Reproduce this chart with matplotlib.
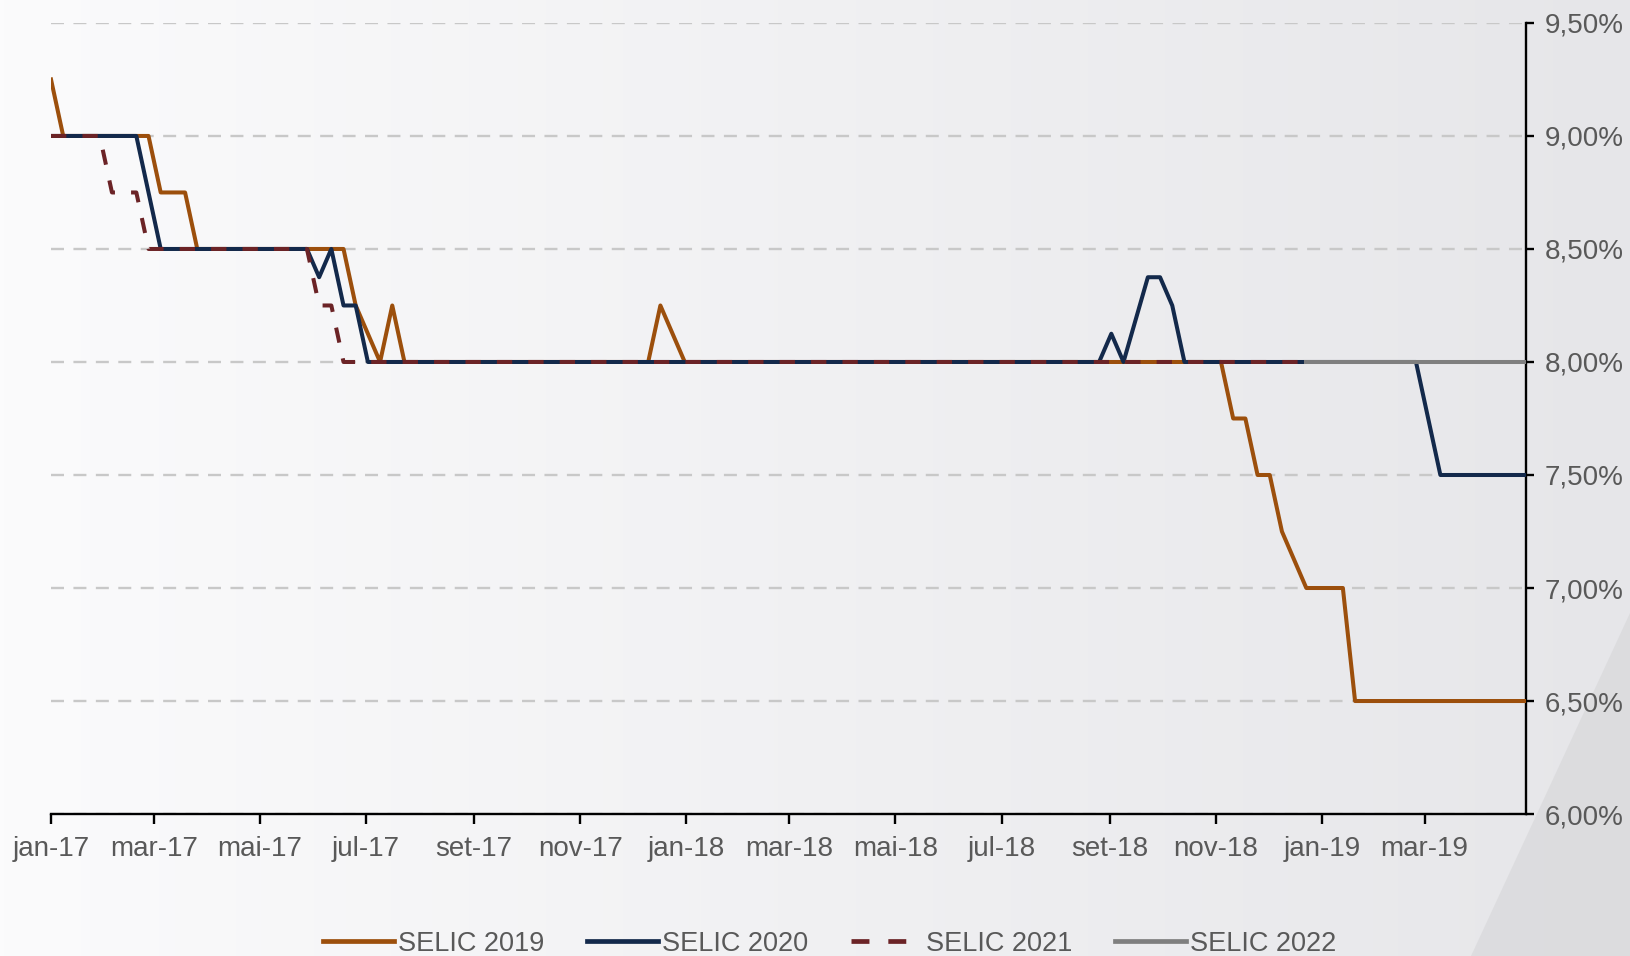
import numpy as np
import pandas as pd
import matplotlib
matplotlib.use("Agg")
import matplotlib.pyplot as plt
from matplotlib.patches import Polygon

plt.rcParams['font.family'] = ['Liberation Sans', 'DejaVu Sans']

# weekly survey dates
dates = pd.date_range('2017-01-01', periods=122, freq='7D')

selic_2019 = [
    9.25, 9.00, 9.00, 9.00, 9.00, 9.00, 9.00, 9.00, 9.00, 8.75,
    8.75, 8.75, 8.50, 8.50, 8.50, 8.50, 8.50, 8.50, 8.50, 8.50,
    8.50, 8.50, 8.50, 8.50, 8.50, 8.25, 8.125, 8.00, 8.25, 8.00,
    8.00, 8.00, 8.00, 8.00, 8.00, 8.00, 8.00, 8.00, 8.00, 8.00,
    8.00, 8.00, 8.00, 8.00, 8.00, 8.00, 8.00, 8.00, 8.00, 8.00,
    8.25, 8.125, 8.00, 8.00, 8.00, 8.00, 8.00, 8.00, 8.00, 8.00,
    8.00, 8.00, 8.00, 8.00, 8.00, 8.00, 8.00, 8.00, 8.00, 8.00,
    8.00, 8.00, 8.00, 8.00, 8.00, 8.00, 8.00, 8.00, 8.00, 8.00,
    8.00, 8.00, 8.00, 8.00, 8.00, 8.00, 8.00, 8.00, 8.00, 8.00,
    8.00, 8.00, 8.00, 8.00, 8.00, 8.00, 8.00, 7.75, 7.75, 7.50,
    7.50, 7.25, 7.125, 7.00, 7.00, 7.00, 7.00, 6.50, 6.50, 6.50,
    6.50, 6.50, 6.50, 6.50, 6.50, 6.50, 6.50, 6.50, 6.50, 6.50,
    6.50, 6.50,
]
selic_2020 = [
    9.00, 9.00, 9.00, 9.00, 9.00, 9.00, 9.00, 9.00, 8.75, 8.50,
    8.50, 8.50, 8.50, 8.50, 8.50, 8.50, 8.50, 8.50, 8.50, 8.50,
    8.50, 8.50, 8.375, 8.50, 8.25, 8.25, 8.00, 8.00, 8.00, 8.00,
    8.00, 8.00, 8.00, 8.00, 8.00, 8.00, 8.00, 8.00, 8.00, 8.00,
    8.00, 8.00, 8.00, 8.00, 8.00, 8.00, 8.00, 8.00, 8.00, 8.00,
    8.00, 8.00, 8.00, 8.00, 8.00, 8.00, 8.00, 8.00, 8.00, 8.00,
    8.00, 8.00, 8.00, 8.00, 8.00, 8.00, 8.00, 8.00, 8.00, 8.00,
    8.00, 8.00, 8.00, 8.00, 8.00, 8.00, 8.00, 8.00, 8.00, 8.00,
    8.00, 8.00, 8.00, 8.00, 8.00, 8.00, 8.00, 8.125, 8.00, 8.1875,
    8.375, 8.375, 8.25, 8.00, 8.00, 8.00, 8.00, 8.00, 8.00, 8.00,
    8.00, 8.00, 8.00, 8.00, 8.00, 8.00, 8.00, 8.00, 8.00, 8.00,
    8.00, 8.00, 8.00, 7.75, 7.50, 7.50, 7.50, 7.50, 7.50, 7.50,
    7.50, 7.50,
]
selic_2021 = [
    9.00, 9.00, 9.00, 9.00, 9.00, 8.75, 8.75, 8.75, 8.50, 8.50,
    8.50, 8.50, 8.50, 8.50, 8.50, 8.50, 8.50, 8.50, 8.50, 8.50,
    8.50, 8.50, 8.25, 8.25, 8.00, 8.00, 8.00, 8.00, 8.00, 8.00,
    8.00, 8.00, 8.00, 8.00, 8.00, 8.00, 8.00, 8.00, 8.00, 8.00,
    8.00, 8.00, 8.00, 8.00, 8.00, 8.00, 8.00, 8.00, 8.00, 8.00,
    8.00, 8.00, 8.00, 8.00, 8.00, 8.00, 8.00, 8.00, 8.00, 8.00,
    8.00, 8.00, 8.00, 8.00, 8.00, 8.00, 8.00, 8.00, 8.00, 8.00,
    8.00, 8.00, 8.00, 8.00, 8.00, 8.00, 8.00, 8.00, 8.00, 8.00,
    8.00, 8.00, 8.00, 8.00, 8.00, 8.00, 8.00, 8.00, 8.00, 8.00,
    8.00, 8.00, 8.00, 8.00, 8.00, 8.00, 8.00, 8.00, 8.00, 8.00,
    8.00, 8.00, 8.00, 8.00,
]
# 2022 series only starts at the 104th survey
selic_2022 = [
    8.00, 8.00, 8.00, 8.00, 8.00, 8.00, 8.00, 8.00, 8.00, 8.00,
    8.00, 8.00, 8.00, 8.00, 8.00, 8.00, 8.00, 8.00, 8.00,
]

tick_dates = ['2017-01-01', '2017-03-01', '2017-05-01', '2017-07-01', '2017-09-01',
              '2017-11-01', '2018-01-01', '2018-03-01', '2018-05-01', '2018-07-01',
              '2018-09-01', '2018-11-01', '2019-01-01', '2019-03-01']
tick_labels = ['jan-17', 'mar-17', 'mai-17', 'jul-17', 'set-17', 'nov-17', 'jan-18',
               'mar-18', 'mai-18', 'jul-18', 'set-18', 'nov-18', 'jan-19', 'mar-19']
y_ticks = [6.0, 6.5, 7.0, 7.5, 8.0, 8.5, 9.0, 9.5]

txt = '#595959'

fig = plt.figure(figsize=(16.3, 9.56), dpi=100)

# background gradient
bg = fig.add_axes([0, 0, 1, 1], zorder=-10)
grad = np.linspace(0, 1, 400)
r = 251 - 21 * grad
g = 251 - 21 * grad
b = 252 - 19 * grad
img = np.stack([np.tile(r, (10, 1)), np.tile(g, (10, 1)), np.tile(b, (10, 1))], axis=-1) / 255
bg.imshow(img, aspect='auto', extent=[0, 1, 0, 1])
bg.add_patch(Polygon([(1471 / 1630, 0), (1.0, 1 - 613 / 956), (1.0, 0)],
                     closed=True, facecolor='#d6d6d8', edgecolor='none', alpha=0.6))
bg.set_xlim(0, 1)
bg.set_ylim(0, 1)
bg.axis('off')

ax = fig.add_axes([0.0313, 0.1485, 0.9047, 0.8275])
ax.set_facecolor('none')

lw = 2.9
ax.plot(dates, selic_2019, color='#9c4f0c', lw=lw, label='SELIC 2019', zorder=3)
ax.plot(dates, selic_2020, color='#13294b', lw=lw, label='SELIC 2020', zorder=4)
ax.plot(dates[:len(selic_2021)], selic_2021, color='#6b2326', lw=lw,
        dashes=(3.8, 4.0), label='SELIC 2021', zorder=5)
ax.plot(dates[-len(selic_2022):], selic_2022, color='#7f7f7f', lw=lw,
        label='SELIC 2022', zorder=6)

ax.set_xlim(dates[0], dates[-1])
ax.set_ylim(6.0, 9.5)

ax.yaxis.tick_right()
ax.set_yticks(y_ticks)
ax.set_yticklabels([f'{v:.2f}%'.replace('.', ',') for v in y_ticks])
ax.set_xticks(pd.to_datetime(tick_dates))
ax.set_xticklabels(tick_labels)

for s in ['top', 'left']:
    ax.spines[s].set_visible(False)
for s in ['right', 'bottom']:
    ax.spines[s].set_linewidth(1.7)
    ax.spines[s].set_color('black')

ax.tick_params(axis='y', which='major', direction='out', length=6, width=1.7,
               labelsize=20, labelcolor=txt, pad=8, right=True, left=False)
ax.tick_params(axis='x', which='major', direction='out', length=7, width=1.7,
               labelsize=20, labelcolor=txt, pad=9)

ax.yaxis.grid(True, color='#c8c8c8', lw=1.7, linestyle=(0, (5.5, 4)))
ax.set_axisbelow(True)

leg = ax.legend(loc='center', bbox_to_anchor=(0.509, 0.013), bbox_transform=fig.transFigure,
                ncol=4, frameon=False, fontsize=19.5, handlelength=2.6,
                handletextpad=0.15, columnspacing=1.6, labelcolor=txt)
for h in leg.get_lines():
    h.set_linewidth(3.4)

fig.savefig('out.png', dpi=100)
